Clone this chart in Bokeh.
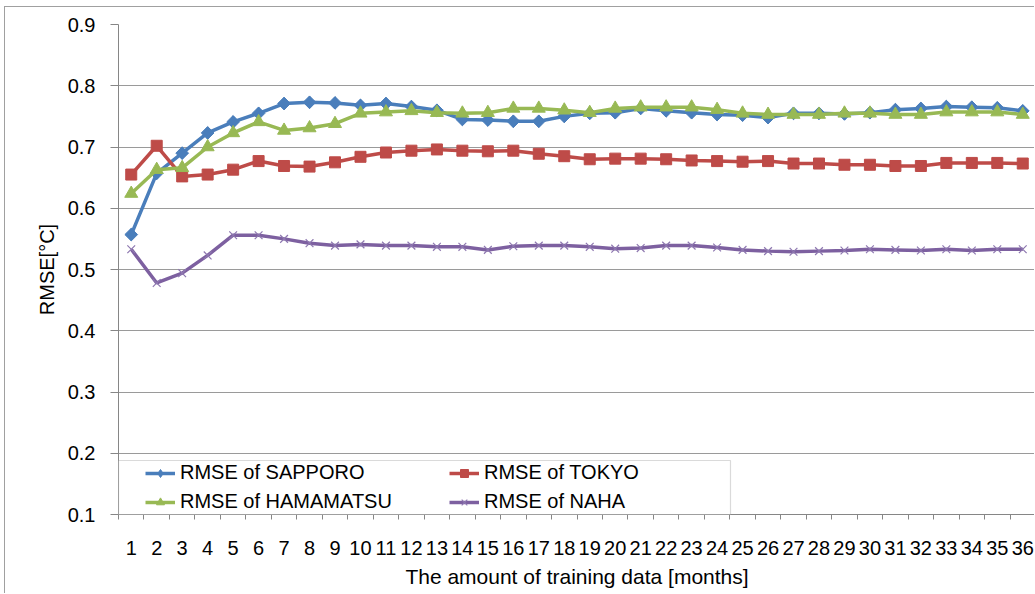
from bokeh.plotting import figure
from bokeh.models import (FixedTicker, Range1d, Legend, LegendItem, BoxAnnotation)
from bokeh.embed import file_html
from bokeh.resources import INLINE
import math

months = list(range(1, 37))
month_labels = [str(m) for m in months]
y_ticks = [0.1, 0.2, 0.3, 0.4, 0.5, 0.6, 0.7, 0.8, 0.9]

sapporo = [0.557, 0.657, 0.690, 0.723, 0.741, 0.755, 0.771, 0.773, 0.772, 0.768,
           0.771, 0.766, 0.760, 0.745, 0.744, 0.742, 0.742, 0.750, 0.755, 0.756,
           0.763, 0.759, 0.756, 0.753, 0.752, 0.748, 0.755, 0.755, 0.754, 0.756,
           0.761, 0.763, 0.766, 0.765, 0.764, 0.759]
tokyo = [0.655, 0.702, 0.652, 0.655, 0.663, 0.677, 0.669, 0.668, 0.675, 0.684,
         0.691, 0.694, 0.696, 0.694, 0.693, 0.694, 0.689, 0.685, 0.680, 0.681,
         0.681, 0.680, 0.678, 0.677, 0.676, 0.677, 0.673, 0.673, 0.671, 0.671,
         0.669, 0.669, 0.674, 0.674, 0.674, 0.673]
hamamatsu = [0.624, 0.663, 0.666, 0.700, 0.723, 0.741, 0.727, 0.731, 0.738, 0.755,
             0.757, 0.759, 0.756, 0.755, 0.756, 0.763, 0.763, 0.760, 0.756, 0.763,
             0.765, 0.765, 0.765, 0.761, 0.755, 0.753, 0.753, 0.753, 0.755, 0.755,
             0.753, 0.753, 0.757, 0.757, 0.757, 0.753]
naha = [0.533, 0.478, 0.494, 0.523, 0.556, 0.556, 0.550, 0.543, 0.539, 0.541,
        0.539, 0.539, 0.537, 0.537, 0.532, 0.538, 0.539, 0.539, 0.537, 0.534,
        0.535, 0.539, 0.539, 0.536, 0.532, 0.530, 0.529, 0.530, 0.531, 0.533,
        0.532, 0.531, 0.533, 0.531, 0.533, 0.533]

names = ["RMSE of SAPPORO", "RMSE of TOKYO", "RMSE of HAMAMATSU", "RMSE of NAHA"]

FONT = "Liberation Sans"
GRID = "#9a9a9a"

p = figure(width=1030, height=587, output_backend="svg", toolbar_location=None,
           x_range=Range1d(0.5, 36.5), y_range=Range1d(0.1, 0.9),
           min_border_left=113, min_border_right=0, min_border_top=17,
           min_border_bottom=80)
p.margin = (6, 0, 0, 4)
p.styles = {"border-left": "1px solid #a0a0a0", "border-top": "1px solid #a0a0a0"}
p.outline_line_color = None
p.background_fill_color = "white"
p.border_fill_color = "white"

# axes
p.xaxis.ticker = FixedTicker(ticks=months, minor_ticks=[m - 0.5 for m in months] + [36.5])
p.xaxis.major_label_overrides = {m: s for m, s in zip(months, month_labels)}
p.xaxis.major_tick_out = 0
p.xaxis.major_tick_in = 0
p.xaxis.minor_tick_out = 5
p.xaxis.minor_tick_in = 0
p.xaxis.major_label_standoff = 21
p.xaxis.axis_label = "The amount of training data [months]"
p.xaxis.axis_label_text_font_size = "21px"
p.xaxis.axis_label_standoff = 7

p.yaxis.ticker = FixedTicker(ticks=y_ticks, minor_ticks=[])
p.yaxis.major_tick_out = 8
p.yaxis.major_tick_in = 0
p.yaxis.minor_tick_out = 0
p.yaxis.minor_tick_in = 0
p.yaxis.major_label_standoff = 15
p.yaxis.axis_label = "RMSE[°C]"
p.yaxis.axis_label_text_font_size = "20px"
p.yaxis.axis_label_standoff = 7

for ax in (p.xaxis, p.yaxis):
    ax.axis_line_color = "#868686"
    ax.major_tick_line_color = "#868686"
    ax.minor_tick_line_color = "#868686"
    ax.major_label_text_font = FONT
    ax.major_label_text_font_size = "20px"
    ax.major_label_text_color = "black"
    ax.axis_label_text_font = FONT
    ax.axis_label_text_font_style = "normal"
    ax.axis_label_text_color = "black"

p.xgrid.grid_line_color = None
p.ygrid.grid_line_color = GRID
p.ygrid.grid_line_width = 1.2

colors = ["#4A7EBB", "#BE4B48", "#98B954", "#7D60A0"]
series = [sapporo, tokyo, hamamatsu, naha]

items = []
for name, vals, col in zip(names, series, colors):
    ln = p.line(months, vals, line_color=col, line_width=3.5)
    if name.endswith("SAPPORO"):
        # diamond (used for the legend symbol), covered by the rotated square
        leg = p.scatter(months, vals, marker="diamond", size=12,
                        fill_color=col, line_color=col)
        p.scatter(months, vals, marker="square", angle=math.pi / 4, size=9,
                  fill_color=col, line_color=col)
        items.append(LegendItem(label=name, renderers=[ln, leg]))
        continue
    elif name.endswith("TOKYO"):
        mk = p.scatter(months, vals, marker="square", size=11,
                       fill_color=col, line_color=col)
    elif name.endswith("HAMAMATSU"):
        mk = p.scatter(months, vals, marker="triangle", size=13,
                       fill_color=col, line_color=col)
    else:
        mk = p.scatter(months, vals, marker="x", size=11,
                       line_color="#8E78B0", line_width=1.2)
    items.append(LegendItem(label=name, renderers=[ln, mk]))

box = BoxAnnotation(left=0, right=612, bottom=0, top=54,
                    left_units="screen", right_units="screen",
                    bottom_units="screen", top_units="screen",
                    fill_color="white", fill_alpha=1.0,
                    line_color="#868686", line_width=1.2)
p.add_layout(box)

legend = Legend(items=items, orientation="horizontal", ncols=2,
                location=(27, 0), padding=0, margin=0, spacing=4,
                label_width=265, label_height=25, glyph_height=20, glyph_width=30,
                label_standoff=5, border_line_color=None, background_fill_alpha=0,
                label_text_font=FONT, label_text_font_size="20px",
                label_text_color="black")
p.add_layout(legend)

open("out.html", "w").write(file_html(p, INLINE))
